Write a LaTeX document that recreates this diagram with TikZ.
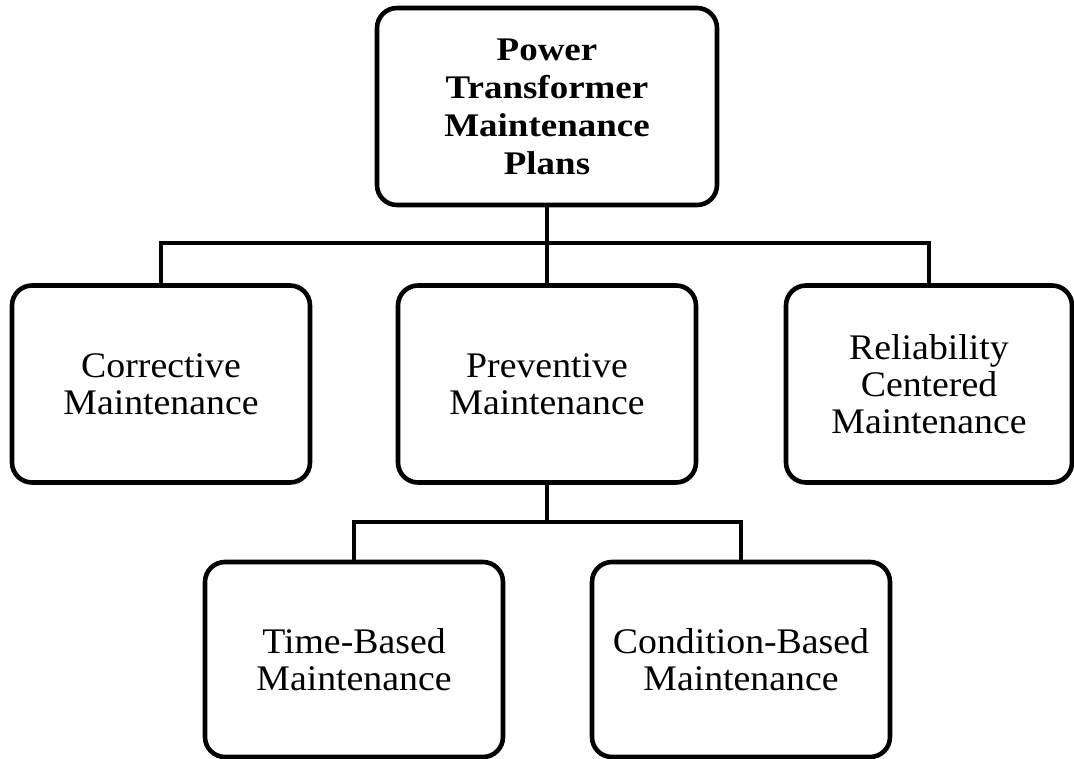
\documentclass[tikz,border=0pt]{standalone}
\usepackage{fontspec}
\setmainfont{Liberation Serif}
\newfontfamily\boxfont{Liberation Serif}[FakeStretch=1.05]
\newfontfamily\headfont{Liberation Serif}[FakeStretch=1.12]
\begin{document}
\begin{tikzpicture}[x=1pt,y=-1pt,
  box/.style={draw, line width=4.6pt, rounded corners=20pt,
    minimum width=298pt, minimum height=197pt, align=center,
    inner sep=0pt, font=\boxfont\fontsize{36}{37}\selectfont},
  link/.style={line width=4.6pt, line join=miter}]
\useasboundingbox (0,0) rectangle (1074,759);

% boxes
\node[box, minimum width=340pt, font=\headfont\fontsize{33}{38}\selectfont\bfseries]
  (top) at (547,106.5) {Power\\Transformer\\Maintenance\\Plans};
\node[box] (corr) at (161,384) {Corrective\\Maintenance};
\node[box] (prev) at (547,384) {Preventive\\Maintenance};
\node[box, minimum width=286pt] (rel) at (929,384) {Reliability\\Centered\\Maintenance};
\node[box, minimum height=195pt] (time) at (354,659.5) {Time-Based\\Maintenance};
\node[box, minimum height=195pt] (cond) at (741,659.5) {Condition-Based\\Maintenance};

% bus lines
\coordinate (bus) at (top.south |- 0,243);
\coordinate (sub) at (prev.south |- 0,522);
\draw[link] (top.south) -- (bus);
\draw[link] (corr.north) |- (bus) -| (rel.north);
\draw[link] (bus) -- (prev.north);
\draw[link] (prev.south) -- (sub);
\draw[link] (time.north) |- (sub) -| (cond.north);
\end{tikzpicture}
\end{document}
